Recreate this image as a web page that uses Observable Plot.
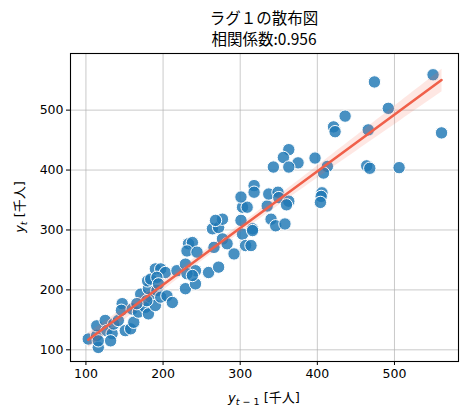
<!DOCTYPE html>
<html><head><meta charset="utf-8">
<script src="https://cdn.jsdelivr.net/npm/d3@7"></script>
<script src="https://cdn.jsdelivr.net/npm/@observablehq/plot@0.6"></script>
<style>
body{margin:0;background:#fff;}
#title{box-sizing:border-box;width:467px;height:50px;padding-top:7px;padding-left:61px;text-align:center;font-family:"Noto Sans CJK JP","DejaVu Sans",sans-serif;font-size:15.5px;line-height:21px;color:#000;}
</style></head><body>
<div id="title"><div>ラグ１の散布図</div><div>相関係数:0.956</div></div>
<div id="chart"></div>
<script>
const xs = [103,116,114,116,114,125,127,134,132,136,142,147,146,151,160,158,162,171,168,177,181,184,190,181,180,184,190,197,203,192,197,205,212,179,192,194,166,218,229,233,238,231,244,229,242,242,231,238,259,272,264,272,277,268,277,266,283,292,303,309,303,307,314,316,301,335,340,346,301,318,318,337,349,350,363,360,358,316,363,356,375,343,363,397,413,408,406,405,404,421,423,436,466,464,468,506,492,474,550,561];
const ys = [118,104,124,115,140,149,132,127,115,143,149,177,166,132,168,135,146,193,163,171,160,188,174,202,215,218,235,235,229,199,188,190,179,182,221,210,177,232,243,277,279,265,263,202,210,232,227,224,229,238,302,304,318,316,285,271,277,260,338,338,293,274,274,302,316,340,318,307,355,374,363,360,363,354,348,342,310,299,434,421,412,405,405,420,406,395,362,356,346,472,464,490,467,407,403,404,503,547,559,462];
const xTicks = [100,200,300,400,500];
const yTicks = [100,200,300,400,500];
const data = xs.map((x,i)=>({x, y: ys[i]}));
const plot = Plot.plot({
  width:467, height:369, marginLeft:70, marginRight:9, marginTop:3, marginBottom:58,
  style:{fontFamily:"DejaVu Sans, sans-serif", fontSize:"12.5px", color:"#000", background:"#fff", overflow:"visible"},
  x:{domain:[80,583], label:null},
  y:{domain:[80.5,594.5], label:null},
  marks:[
    Plot.gridX(xTicks,{stroke:"#b0b0b0", strokeOpacity:0.85, strokeWidth:0.8}),
    Plot.gridY(yTicks,{stroke:"#b0b0b0", strokeOpacity:0.85, strokeWidth:0.8}),
    Plot.dot(data,{x:"x", y:"y", r:6.2, fill:"#1f77b4", fillOpacity:0.82, stroke:"white", strokeWidth:1}),
    Plot.linearRegressionY(data,{x:"x", y:"y", stroke:"#f0604a", strokeWidth:2.6, fill:"#f9684f", fillOpacity:0.16}),
    Plot.axisX(xTicks,{tickSize:4, tickPadding:4, label:null, stroke:"black", fontSize:12.5}),
    Plot.axisY(yTicks,{tickSize:4, tickPadding:3, label:null, stroke:"black", fontSize:12.5}),
    Plot.frame({stroke:"black", strokeWidth:1.1})
  ]
});
document.getElementById("chart").appendChild(plot);
const svg = d3.select(plot);
const cjk = '"DejaVu Sans","Noto Sans CJK JP",sans-serif';
const xl = svg.append("text").attr("x",264).attr("y",352).attr("text-anchor","middle")
  .style("font-family",cjk).style("font-size","13px").attr("fill","#000");
xl.append("tspan").attr("font-style","italic").text("y");
xl.append("tspan").attr("dy",3).attr("font-size","9.5px").attr("font-style","italic").text("t");
xl.append("tspan").attr("font-size","9.5px").text(" − 1");
xl.append("tspan").attr("dy",-3).text(" [千人]");
const yl = svg.append("text").attr("transform","translate(24,157) rotate(-90)").attr("text-anchor","middle")
  .style("font-family",cjk).style("font-size","13px").attr("fill","#000");
yl.append("tspan").attr("font-style","italic").text("y");
yl.append("tspan").attr("dy",3).attr("font-size","9.5px").attr("font-style","italic").text("t");
yl.append("tspan").attr("dy",-3).text(" [千人]");
</script>
</body></html>
